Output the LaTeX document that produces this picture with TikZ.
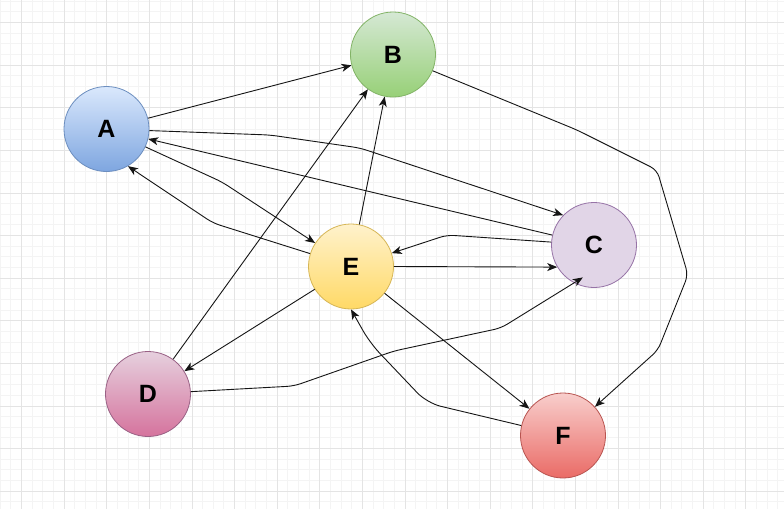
\documentclass[tikz,border=0pt]{standalone}
\usepackage{fontspec}
\setmainfont{Liberation Sans}
\usetikzlibrary{arrows.meta,calc}
\definecolor{minorg}{HTML}{F4F4F4}
\definecolor{majorg}{HTML}{E4E4E4}
\definecolor{aTop}{HTML}{DAE8FC}\definecolor{aBot}{HTML}{7EA6E0}\definecolor{aStr}{HTML}{6C8EBF}
\definecolor{bTop}{HTML}{D5E8D4}\definecolor{bBot}{HTML}{97D077}\definecolor{bStr}{HTML}{82B366}
\definecolor{cFill}{HTML}{E1D5E7}\definecolor{cStr}{HTML}{9673A6}
\definecolor{dTop}{HTML}{E6D0DE}\definecolor{dBot}{HTML}{D5739D}\definecolor{dStr}{HTML}{996185}
\definecolor{eTop}{HTML}{FFF2CC}\definecolor{eBot}{HTML}{FFD966}\definecolor{eStr}{HTML}{D6B656}
\definecolor{fTop}{HTML}{F8CECC}\definecolor{fBot}{HTML}{EA6B66}\definecolor{fStr}{HTML}{B85450}
\definecolor{edgecol}{HTML}{151515}
\tikzset{
  minorgrid/.style={draw=minorg, line width=0.8pt},
  majorgrid/.style={draw=majorg, line width=0.8pt},
  vertex/.style={circle, minimum size=85pt, inner sep=0pt, line width=0.8pt,
    font=\fontsize{25}{25}\selectfont\bfseries},
  link/.style={draw=edgecol, line width=0.9pt, rounded corners=7pt,
    -{Stealth[length=10pt,width=8pt,inset=2.8pt]}},
}
\begin{document}
\begin{tikzpicture}[x=1pt,y=-1pt]
\useasboundingbox (0,0) rectangle (784,509);
\fill[white] (0,0) rectangle (784,509);
\begin{scope}
\clip (0,0) rectangle (784,509);
\foreach \i in {0,...,73} \draw[minorgrid] ({0.2+10.65*\i},0) -- ++(0,509);
\foreach \j in {0,...,47} \draw[minorgrid] (0,{1.2+10.65*\j}) -- ++(784,0);
\foreach \i in {0,...,18} \draw[majorgrid] ({21.5+42.6*\i},0) -- ++(0,509);
\foreach \j in {0,...,11} \draw[majorgrid] (0,{22.5+42.6*\j}) -- ++(784,0);
\end{scope}

\node[vertex, draw=aStr, top color=aTop, bottom color=aBot] (A) at (106.5,129) {A};
\node[vertex, draw=bStr, top color=bTop, bottom color=bBot] (B) at (393,54.5) {B};
\node[vertex, draw=cStr, fill=cFill] (C) at (594,245) {C};
\node[vertex, draw=dStr, top color=dTop, bottom color=dBot] (D) at (148,394) {D};
\node[vertex, draw=eStr, top color=eTop, bottom color=eBot] (E) at (351,266.5) {E};
\node[vertex, draw=fStr, top color=fTop, bottom color=fBot] (F) at (563,435.5) {F};

\coordinate (Cin) at ($(C.center)!0.8!(C.251)$);

\draw[link] (A) -- (B);
\draw[link] (A) -- (270,135) -- (360,148) -- (C.136);
\draw[link] (C) -- (A);
\draw[link] (A) -- (222,182) -- (E);
\draw[link] (E) -- (213,223) -- (A.-60);
\draw[link] (D) -- (B);
\draw[link] (E) -- (B);
\draw[link] (B) -- (577,130) -- (657,170) -- (688,275) -- (658,350) -- (F);
\draw[link] (C) -- (447,235) -- (E);
\draw[link] (E.east) -- (C.211);
\draw[link] (D) -- (294,386) -- (394,351) -- (501,328) -- (Cin);
\draw[link] (E) -- (D);
\draw[link] (E) -- (F);
\draw[link, rounded corners=14pt] (F) -- (427,403) -- (370,343) -- (E.south);
\end{tikzpicture}
\end{document}
